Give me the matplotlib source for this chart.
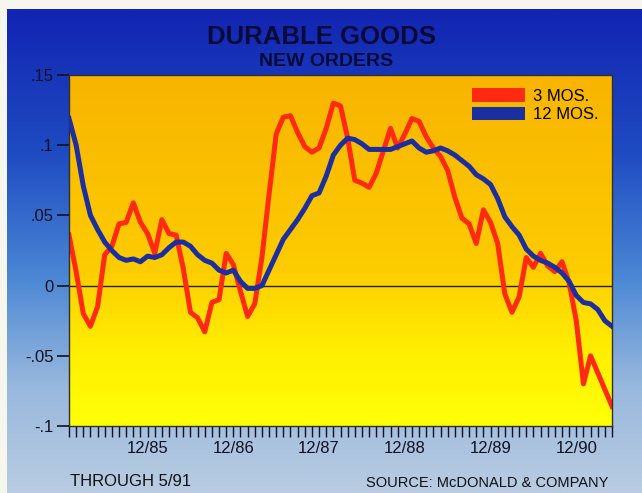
import matplotlib
matplotlib.use('Agg')
import matplotlib.pyplot as plt
import numpy as np
from matplotlib.colors import LinearSegmentedColormap
from matplotlib.patches import Patch

# --------------[DATA]----------------
# monthly, 1/85 .. 5/91
months = np.arange(77)
three_mos = [0.036, 0.010, -0.020, -0.029, -0.015, 0.022, 0.028, 0.044, 0.045, 0.059,
             0.045, 0.037, 0.023, 0.047, 0.037, 0.036, 0.012, -0.019, -0.023, -0.033,
             -0.012, -0.010, 0.023, 0.015, -0.004, -0.022, -0.013, 0.020, 0.065, 0.108,
             0.120, 0.121, 0.109, 0.099, 0.095, 0.098, 0.112, 0.130, 0.128, 0.105,
             0.075, 0.073, 0.070, 0.080, 0.096, 0.112, 0.098, 0.108, 0.119, 0.117,
             0.106, 0.098, 0.092, 0.082, 0.063, 0.048, 0.044, 0.030, 0.054, 0.045,
             0.030, -0.006, -0.019, -0.008, 0.020, 0.013, 0.023, 0.014, 0.010, 0.017,
             0.002, -0.025, -0.070, -0.050, -0.062, -0.074, -0.086]
twelve_mos = [0.119, 0.100, 0.071, 0.050, 0.040, 0.031, 0.025, 0.020, 0.018, 0.019,
              0.017, 0.021, 0.020, 0.022, 0.027, 0.031, 0.031, 0.028, 0.022, 0.018,
              0.016, 0.011, 0.009, 0.011, 0.003, -0.002, -0.002, 0.000, 0.011, 0.022,
              0.033, 0.040, 0.047, 0.055, 0.064, 0.066, 0.078, 0.093, 0.100, 0.105,
              0.104, 0.101, 0.097, 0.097, 0.097, 0.097, 0.099, 0.101, 0.103, 0.098,
              0.095, 0.096, 0.098, 0.096, 0.093, 0.089, 0.085, 0.079, 0.076, 0.072,
              0.062, 0.049, 0.042, 0.036, 0.026, 0.021, 0.018, 0.016, 0.013, 0.009,
              0.003, -0.007, -0.012, -0.013, -0.017, -0.025, -0.029]
year_ticks = [11, 23, 35, 47, 59, 71]
year_labels = ['12/85', '12/86', '12/87', '12/88', '12/89', '12/90']
y_ticks = [-0.1, -0.05, 0, 0.05, 0.1, 0.15]
y_labels = ['-.1', '-.05', '0', '.05', '.1', '.15']

plt.rcParams['font.family'] = ['Liberation Sans', 'DejaVu Sans']

fig = plt.figure(figsize=(6.42, 4.93), dpi=100, facecolor='#f6f5ee')

# blue backdrop
bg = fig.add_axes([7 / 642, 0, 1 - 7 / 642, 1 - 9 / 493], zorder=-5)
bg_cmap = LinearSegmentedColormap.from_list(
    'bg', [(0, '#b9cce2'), (0.22, '#98b8dd'), (0.45, '#4a86d4'), (0.7, '#1f4cc2'), (1, '#1224b2')])
bg.imshow(np.linspace(0, 1, 256).reshape(-1, 1), cmap=bg_cmap, origin='lower',
          aspect='auto', extent=[0, 1, 0, 1])
bg.axis('off')

ax = fig.add_axes([69 / 642, 1 - 426 / 493, (612 - 69) / 642, (426 - 75) / 493])
ax.set_xlim(0, 76)
ax.set_ylim(-0.1, 0.15)

plot_cmap = LinearSegmentedColormap.from_list(
    'pa', [(0, '#ffff08'), (0.2, '#fff000'), (0.45, '#fdcc00'), (1, '#f8b400')])
ax.imshow(np.linspace(0, 1, 256).reshape(-1, 1), cmap=plot_cmap, origin='lower',
          aspect='auto', extent=[0, 76, -0.1, 0.15], zorder=0)

ax.axhline(0, color='#202020', lw=1, zorder=1)
ax.plot(months, three_mos, color='#ff2a12', lw=3.6, zorder=2)
ax.plot(months, twelve_mos, color='#1c2fa0', lw=3.6, zorder=3)

ax.set_yticks(y_ticks)
ax.set_yticklabels(y_labels)
ax.set_xticks(year_ticks)
ax.set_xticklabels(year_labels)
ax.set_xticks(months, minor=True)
ax.tick_params(axis='y', direction='out', length=9, width=1.2, labelsize=12,
               colors='#101020', pad=2)
ax.tick_params(axis='x', which='both', direction='out', length=8, width=1,
               labelsize=12, colors='#101020', pad=3)
for s in ax.spines.values():
    s.set_color('#303030')
    s.set_linewidth(1)

handles = [Patch(facecolor='#ff2a12', edgecolor='none', label='3 MOS.'),
           Patch(facecolor='#1c2fa0', edgecolor='none', label='12 MOS.')]
ax.legend(handles=handles, loc='upper right', frameon=False, fontsize=12,
          handlelength=3.2, handleheight=0.9, handletextpad=0.5, labelspacing=0.15,
          borderaxespad=0.4)

fig.text(322 / 642, 1 - 37 / 493, 'DURABLE GOODS', ha='center', va='center',
         fontsize=18.5, fontweight='bold', color='#0a0a38')
fig.text(326 / 642, 1 - 61 / 493, 'NEW ORDERS', ha='center', va='center',
         fontsize=14, fontweight='bold', color='#0a0a38')
fig.text(70 / 642, 1 - 482 / 493, 'THROUGH 5/91', ha='left', va='center',
         fontsize=12, color='#101010')
fig.text(608 / 642, 1 - 483 / 493, 'SOURCE: McDONALD & COMPANY', ha='right', va='center',
         fontsize=10.5, color='#101010')

fig.savefig('out.png', dpi=100, facecolor=fig.get_facecolor())
